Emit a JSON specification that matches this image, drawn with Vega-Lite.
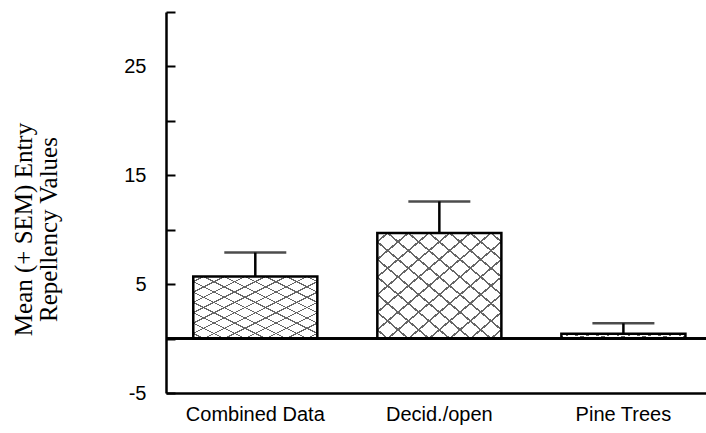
{
  "$schema": "https://vega.github.io/schema/vega-lite/v6.json",
  "autosize": {"type": "none"},
  "padding": {"left": 166, "top": 12, "right": 0, "bottom": 40},
  "width": 540,
  "height": 381,
  "background": "white",
  "config": {
    "view": {"stroke": null},
    "axis": {"domainColor": "black", "tickColor": "black", "labelColor": "black", "titleColor": "black", "grid": false}
  },
  "data": {
    "values": [
      {"group": "Combined Data", "mean": 5.7, "upper": 7.9},
      {"group": "Decid./open", "mean": 9.7, "upper": 12.6},
      {"group": "Pine Trees", "mean": 0.45, "upper": 1.4}
    ]
  },
  "encoding": {
    "x": {
      "field": "group",
      "type": "nominal",
      "sort": null,
      "scale": {"paddingInner": 0.326, "paddingOuter": 0.13, "align": 0.57},
      "axis": {
        "title": null,
        "labelAngle": 0,
        "labelFont": "Liberation Sans",
        "labelFontSize": 20,
        "labelPadding": 11,
        "ticks": false,
        "domainWidth": 2.5
      }
    }
  },
  "layer": [
    {
      "mark": {
        "type": "bar",
        "fill": {
          "gradient": "linear", "x1": 0, "y1": 0, "x2": 1, "y2": 1,
          "stops": [
            {"offset": 0, "color": "rgba(255,255,255,0)"},
            {"offset": 0.0367, "color": "rgba(255,255,255,0)"}, {"offset": 0.0367, "color": "#666"}, {"offset": 0.0467, "color": "#666"}, {"offset": 0.0467, "color": "rgba(255,255,255,0)"},
            {"offset": 0.12, "color": "rgba(255,255,255,0)"}, {"offset": 0.12, "color": "#666"}, {"offset": 0.13, "color": "#666"}, {"offset": 0.13, "color": "rgba(255,255,255,0)"},
            {"offset": 0.2033, "color": "rgba(255,255,255,0)"}, {"offset": 0.2033, "color": "#666"}, {"offset": 0.2133, "color": "#666"}, {"offset": 0.2133, "color": "rgba(255,255,255,0)"},
            {"offset": 0.2867, "color": "rgba(255,255,255,0)"}, {"offset": 0.2867, "color": "#666"}, {"offset": 0.2967, "color": "#666"}, {"offset": 0.2967, "color": "rgba(255,255,255,0)"},
            {"offset": 0.37, "color": "rgba(255,255,255,0)"}, {"offset": 0.37, "color": "#666"}, {"offset": 0.38, "color": "#666"}, {"offset": 0.38, "color": "rgba(255,255,255,0)"},
            {"offset": 0.4533, "color": "rgba(255,255,255,0)"}, {"offset": 0.4533, "color": "#666"}, {"offset": 0.4633, "color": "#666"}, {"offset": 0.4633, "color": "rgba(255,255,255,0)"},
            {"offset": 0.5367, "color": "rgba(255,255,255,0)"}, {"offset": 0.5367, "color": "#666"}, {"offset": 0.5467, "color": "#666"}, {"offset": 0.5467, "color": "rgba(255,255,255,0)"},
            {"offset": 0.62, "color": "rgba(255,255,255,0)"}, {"offset": 0.62, "color": "#666"}, {"offset": 0.63, "color": "#666"}, {"offset": 0.63, "color": "rgba(255,255,255,0)"},
            {"offset": 0.7033, "color": "rgba(255,255,255,0)"}, {"offset": 0.7033, "color": "#666"}, {"offset": 0.7133, "color": "#666"}, {"offset": 0.7133, "color": "rgba(255,255,255,0)"},
            {"offset": 0.7867, "color": "rgba(255,255,255,0)"}, {"offset": 0.7867, "color": "#666"}, {"offset": 0.7967, "color": "#666"}, {"offset": 0.7967, "color": "rgba(255,255,255,0)"},
            {"offset": 0.87, "color": "rgba(255,255,255,0)"}, {"offset": 0.87, "color": "#666"}, {"offset": 0.88, "color": "#666"}, {"offset": 0.88, "color": "rgba(255,255,255,0)"},
            {"offset": 0.9533, "color": "rgba(255,255,255,0)"}, {"offset": 0.9533, "color": "#666"}, {"offset": 0.9633, "color": "#666"}, {"offset": 0.9633, "color": "rgba(255,255,255,0)"},
            {"offset": 1, "color": "rgba(255,255,255,0)"}
          ]
        }
      },
      "encoding": {
        "y": {
          "field": "mean",
          "type": "quantitative",
          "title": ["Mean (+ SEM) Entry", "Repellency Values"],
          "scale": {"domain": [-5, 30], "nice": false, "zero": false},
          "axis": {
            "values": [-5, 0, 5, 10, 15, 20, 25, 30],
            "labelExpr": "datum.value == -5 ? '-5' : (datum.value == 5 || datum.value == 15 || datum.value == 25 ? datum.label : '')",
            "labelFont": "Liberation Sans",
            "labelFontSize": 20,
            "labelBaseline": "middle",
            "tickSize": -9,
            "tickWidth": 2,
            "labelPadding": 29,
            "domainWidth": 2.5,
            "titleFont": "Liberation Serif",
            "titleFontSize": 25,
            "titleFontWeight": "normal",
            "titleLineHeight": 25,
            "titleAngle": -90,
            "titleAlign": "center",
            "titleBaseline": "top",
            "titleX": -155,
            "titleY": 217
          }
        },
        "y2": {"datum": 0}
      }
    },
    {
      "mark": {
        "type": "bar",
        "stroke": "black",
        "strokeWidth": 2.5,
        "fill": {
          "gradient": "linear", "x1": 0, "y1": 1, "x2": 1, "y2": 0,
          "stops": [
            {"offset": 0, "color": "rgba(255,255,255,0)"},
            {"offset": 0.0367, "color": "rgba(255,255,255,0)"}, {"offset": 0.0367, "color": "#666"}, {"offset": 0.0467, "color": "#666"}, {"offset": 0.0467, "color": "rgba(255,255,255,0)"},
            {"offset": 0.12, "color": "rgba(255,255,255,0)"}, {"offset": 0.12, "color": "#666"}, {"offset": 0.13, "color": "#666"}, {"offset": 0.13, "color": "rgba(255,255,255,0)"},
            {"offset": 0.2033, "color": "rgba(255,255,255,0)"}, {"offset": 0.2033, "color": "#666"}, {"offset": 0.2133, "color": "#666"}, {"offset": 0.2133, "color": "rgba(255,255,255,0)"},
            {"offset": 0.2867, "color": "rgba(255,255,255,0)"}, {"offset": 0.2867, "color": "#666"}, {"offset": 0.2967, "color": "#666"}, {"offset": 0.2967, "color": "rgba(255,255,255,0)"},
            {"offset": 0.37, "color": "rgba(255,255,255,0)"}, {"offset": 0.37, "color": "#666"}, {"offset": 0.38, "color": "#666"}, {"offset": 0.38, "color": "rgba(255,255,255,0)"},
            {"offset": 0.4533, "color": "rgba(255,255,255,0)"}, {"offset": 0.4533, "color": "#666"}, {"offset": 0.4633, "color": "#666"}, {"offset": 0.4633, "color": "rgba(255,255,255,0)"},
            {"offset": 0.5367, "color": "rgba(255,255,255,0)"}, {"offset": 0.5367, "color": "#666"}, {"offset": 0.5467, "color": "#666"}, {"offset": 0.5467, "color": "rgba(255,255,255,0)"},
            {"offset": 0.62, "color": "rgba(255,255,255,0)"}, {"offset": 0.62, "color": "#666"}, {"offset": 0.63, "color": "#666"}, {"offset": 0.63, "color": "rgba(255,255,255,0)"},
            {"offset": 0.7033, "color": "rgba(255,255,255,0)"}, {"offset": 0.7033, "color": "#666"}, {"offset": 0.7133, "color": "#666"}, {"offset": 0.7133, "color": "rgba(255,255,255,0)"},
            {"offset": 0.7867, "color": "rgba(255,255,255,0)"}, {"offset": 0.7867, "color": "#666"}, {"offset": 0.7967, "color": "#666"}, {"offset": 0.7967, "color": "rgba(255,255,255,0)"},
            {"offset": 0.87, "color": "rgba(255,255,255,0)"}, {"offset": 0.87, "color": "#666"}, {"offset": 0.88, "color": "#666"}, {"offset": 0.88, "color": "rgba(255,255,255,0)"},
            {"offset": 0.9533, "color": "rgba(255,255,255,0)"}, {"offset": 0.9533, "color": "#666"}, {"offset": 0.9633, "color": "#666"}, {"offset": 0.9633, "color": "rgba(255,255,255,0)"},
            {"offset": 1, "color": "rgba(255,255,255,0)"}
          ]
        }
      },
      "encoding": {
        "y": {"field": "mean", "type": "quantitative", "title": ["Mean (+ SEM) Entry", "Repellency Values"]},
        "y2": {"datum": 0}
      }
    },
    {
      "mark": {"type": "rule", "color": "black", "strokeWidth": 2.5},
      "encoding": {"x": null, "y": {"datum": 0, "type": "quantitative"}}
    },
    {
      "mark": {"type": "rule", "color": "black", "strokeWidth": 2.5},
      "encoding": {
        "y": {"field": "mean", "type": "quantitative", "title": ["Mean (+ SEM) Entry", "Repellency Values"]},
        "y2": {"field": "upper"}
      }
    },
    {
      "mark": {"type": "tick", "color": "black", "size": 62, "thickness": 2.5, "orient": "horizontal"},
      "encoding": {
        "y": {"field": "upper", "type": "quantitative", "title": ["Mean (+ SEM) Entry", "Repellency Values"]}
      }
    }
  ]
}
